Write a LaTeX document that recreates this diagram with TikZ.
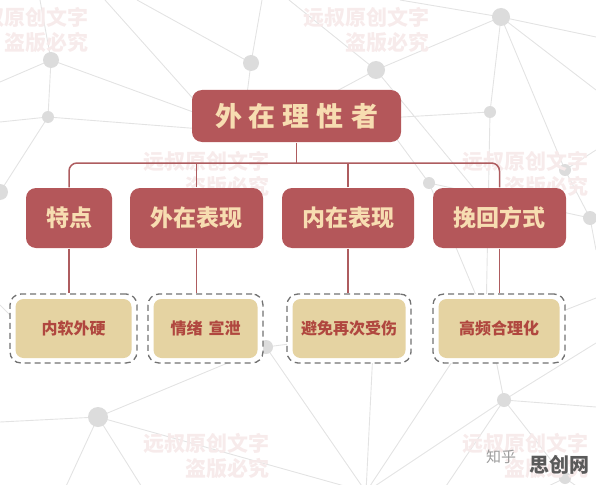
\documentclass[tikz,border=0pt]{standalone}
\usepackage{fontspec}
\newfontfamily\cjk{Noto Sans CJK SC}
\usetikzlibrary{positioning}
\definecolor{cred}{HTML}{B4575A}
\definecolor{cline}{HTML}{AE5C5F}
\definecolor{cbeige}{HTML}{F7DDB1}
\definecolor{csand}{HTML}{E5D3A2}
\definecolor{ctext}{HTML}{B0473F}
\definecolor{cdash}{HTML}{727272}
\definecolor{cnet}{HTML}{E3E3E3}
\definecolor{cdot}{HTML}{DCDCDC}
\definecolor{cmark}{HTML}{F7EBEB}
\definecolor{cgrey}{HTML}{9C9C9C}
\definecolor{clogo}{HTML}{5A5A5A}
\tikzset{
  every picture/.style={line width=1.2pt},
  head/.style={fill=cred, rounded corners=10pt, text=cbeige, inner sep=0pt, minimum height=60pt,
    font=\cjk\bfseries\fontsize{23}{26}\selectfont},
  leaf/.style={draw=cdash, dash pattern=on 6pt off 4pt, line width=1.3pt, fill=white,
    rounded corners=11pt, minimum height=69pt, inner sep=0pt},
  card/.style={fill=csand, rounded corners=8pt, text=ctext, minimum height=59pt, inner sep=0pt,
    font=\cjk\bfseries\fontsize{16}{19}\selectfont},
  link/.style={draw=cline, line width=1.5pt},
  net/.style={draw=cnet, line width=0.9pt},
  wmark/.style={font=\cjk\bfseries\fontsize{21}{25}\selectfont, text=cmark, align=right, inner sep=0pt},
}

\begin{document}
\begin{tikzpicture}[x=1pt, y=-1pt]
  \useasboundingbox (0,0) rectangle (596,484);

  % ---- background net
  \begin{scope}
    \clip (0,0) rectangle (596,484);
    \foreach \n/\x/\y in {n1/51/60, n2/251/63, n3/376/70, n4/501/17, n5/48/117, n6/490/112,
                         n7/429/183, n8/565/170, n9/0/192, n10/590/218, n11/266/347,
                         n12/98/417, n13/504/400, n14/565/478, nb/366/492}
      \coordinate (\n) at (\x,\y);
    \draw[net] (n1) -- (0,82)  (n1) -- (40,0)  (n1) -- (n5)  (n1) -- (215,120)
               (n5) -- (0,122) (n5) -- (n9)   (n5) -- (215,130)
               (105,0) -- (205,112)  (137,0) -- (n2)  (n2) -- (262,0)  (n2) -- (245,110)
               (289,0) -- (n3)  (n3) -- (320,100)  (n3) -- (n4)  (n3) -- (500,220)
               (n4) -- (400,0)  (n4) -- (596,37)  (n4) -- (596,90)  (n4) -- (n6)  (n4) -- (n8)
               (n6) -- (350,120)  (n6) -- (486,320)
               (n7) -- (390,130)  (n7) -- (n10)  (n7) -- (478,300)
               (n8) -- (n10)  (n8) -- (596,150)  (n10) -- (596,250)  (596,298) -- (540,320)
               (0,305) -- (40,345)
               (n11) -- (320,340)  (n12) -- (n11)  (n12) -- (0,422)  (n12) -- (62,495)
               (n12) -- (150,500)  (n12) -- (nb)
               (nb) -- (n11)  (nb) -- (374,330)  (nb) -- (473,330)  (nb) -- (n13)
               (n13) -- (490,330)  (n13) -- (596,343)  (n13) -- (596,407)  (n13) -- (440,495)
               (n13) -- (n14)  (n14) -- (530,495)  (n14) -- (596,500);
    \foreach \n/\r in {n1/8, n2/8, n3/9, n4/9, n5/6, n6/6, n7/6, n8/6, n9/8, n10/7,
                       n11/7, n12/10, n13/7, n14/6}
      \fill[cdot] (\n) circle[radius=\r*1pt];

    % ---- watermarks
    \foreach \x/\y [count=\i] in {89/7, 430/7, 270/151, 589/151, 270/433, 589/433}
      \node[wmark, anchor=north east] (wm\i) at (\x,\y) {远叔原创文字\\盗版必究};
  \end{scope}

  % ---- tree
  \node[head, minimum width=209, minimum height=52, font=\cjk\bfseries\fontsize{27}{30}\selectfont]
    (top) at (296.5,116) {外\hspace{7pt}在\hspace{7pt}理\hspace{7pt}性\hspace{7pt}者};
  \coordinate (bus) at (296.5,163);

  \foreach \n/\x/\w/\t in {1/69/86/特点, 2/196.5/133/外在表现, 3/348/132/内在表现, 4/499.5/133/挽回方式}
    \node[head, minimum width=\w] (c\n) at (\x,218) {\t};

  \foreach \n/\x/\w/\t in {1/73.5/127/内软外硬, 2/205.5/115/{情绪\hspace{6pt}宣泄},
                           3/349/124/避免再次受伤, 4/499/132/高频合理化}
    { \node[leaf, minimum width=\w] (o\n) at (\x,328.5) {};
      \node[card, minimum width=\w-11] (t\n) at (o\n.center) {\t}; }

  \draw[link] (top.south) -- (bus);
  \draw[link, rounded corners=8pt] (c1.north) |- (bus) -| (c4.north);
  \draw[link] (c2.north) -- (c2.north |- bus);
  \draw[link] (c3.north) -- (c3.north |- bus);
  \foreach \n in {1,...,4}
    \draw[link] (c\n.south) -- (c\n.south |- o\n.north);

  % ---- logo
  \node[font=\cjk\fontsize{15}{15}\selectfont, text=cgrey, inner sep=0pt] (zhihu) at (501,457) {知乎};
  \node[font=\cjk\bfseries\fontsize{20}{20}\selectfont, text=clogo, inner sep=0pt] (site) at (559,465) {思创网};
\end{tikzpicture}
\end{document}
